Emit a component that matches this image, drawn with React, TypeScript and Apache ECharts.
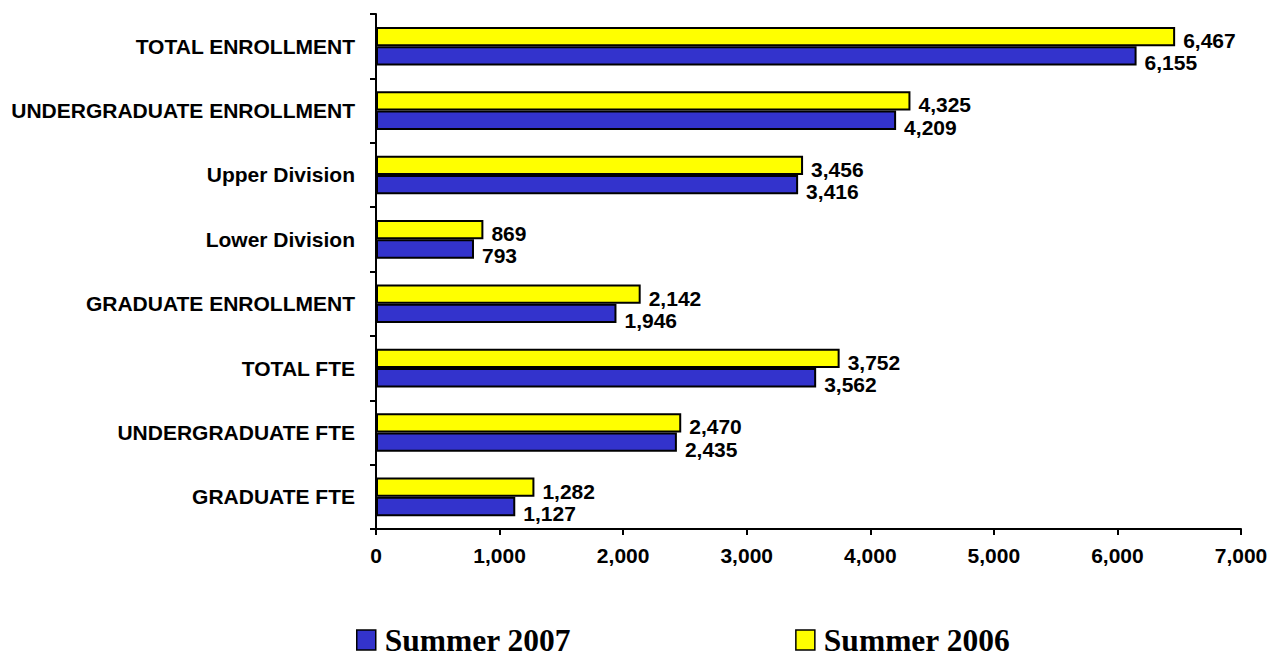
import React, { useEffect, useRef } from "react";
import * as echarts from "echarts";

const categories = [
  "TOTAL ENROLLMENT",
  "UNDERGRADUATE ENROLLMENT",
  "Upper Division",
  "Lower Division",
  "GRADUATE ENROLLMENT",
  "TOTAL FTE",
  "UNDERGRADUATE FTE",
  "GRADUATE FTE",
];
const summer2006 = [6467, 4325, 3456, 869, 2142, 3752, 2470, 1282];
const summer2007 = [6155, 4209, 3416, 793, 1946, 3562, 2435, 1127];
const xTicks = { min: 0, max: 7000, interval: 1000 };

const fmt = (v: number) => v.toLocaleString("en-US");
const FONT = "'Liberation Sans', Arial, sans-serif";

export default function App() {
  const ref = useRef<HTMLDivElement>(null);
  useEffect(() => {
    if (!ref.current) return;
    const chart = echarts.init(ref.current, null, { renderer: "svg" });
    const labelBase = {
      show: true,
      position: "right" as const,
      color: "#000",
      fontFamily: FONT,
      fontWeight: "bold" as const,
      fontSize: 21,
      formatter: (p: any) => fmt(p.value),
    };
    chart.setOption({
      animation: false,
      backgroundColor: "#fff",
      grid: { left: 376, right: 33, top: 14, bottom: 127, containLabel: false },
      legend: {
        data: ["Summer 2007", "Summer 2006"],
        left: 356,
        top: 624,
        padding: 0,
        icon: "rect",
        itemWidth: 19,
        itemHeight: 20,
        itemGap: 224,
        itemStyle: { borderColor: "#000", borderWidth: 1.5 },
        textStyle: {
          fontFamily: "'Liberation Serif', 'Times New Roman', serif",
          fontWeight: "bold",
          fontSize: 31.5,
          color: "#000",
          padding: [0, 0, 0, 4],
        },
      },
      xAxis: {
        type: "value",
        min: xTicks.min,
        max: xTicks.max,
        interval: xTicks.interval,
        splitLine: { show: false },
        axisLine: { show: true, lineStyle: { color: "#000", width: 2 } },
        axisTick: { show: true, length: 6, lineStyle: { color: "#000", width: 2 } },
        axisLabel: {
          margin: 16,
          color: "#000",
          fontFamily: FONT,
          fontWeight: "bold",
          fontSize: 21,
          formatter: (v: number) => fmt(v),
        },
      },
      yAxis: {
        type: "category",
        data: categories,
        inverse: true,
        axisLine: { show: true, lineStyle: { color: "#000", width: 2 } },
        axisTick: { show: true, length: 6, lineStyle: { color: "#000", width: 2 } },
        axisLabel: {
          margin: 21,
          color: "#000",
          fontFamily: FONT,
          fontWeight: "bold",
          fontSize: 21,
        },
      },
      series: [
        {
          name: "Summer 2006",
          type: "bar",
          data: summer2006,
          barGap: "0%",
          barCategoryGap: "40%",
          itemStyle: { color: "#FFFF00", borderColor: "#000", borderWidth: 2 },
          label: { ...labelBase, distance: 8, offset: [0, 4] },
        },
        {
          name: "Summer 2007",
          type: "bar",
          data: summer2007,
          barGap: "0%",
          barCategoryGap: "40%",
          itemStyle: { color: "#3333CC", borderColor: "#000", borderWidth: 2 },
          label: { ...labelBase, distance: 8, offset: [0, 7] },
        },
      ],
    });
    return () => chart.dispose();
  }, []);
  return (
    <div
      ref={ref}
      style={{ position: "fixed", left: 0, top: 0, width: 1274, height: 656 }}
    />
  );
}
